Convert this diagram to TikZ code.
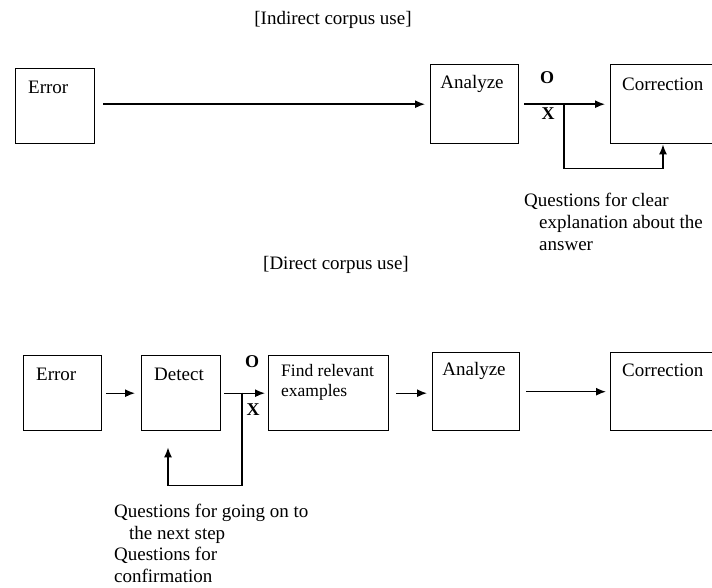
\documentclass[tikz,border=0pt]{standalone}
\usepackage{fontspec}
\setmainfont{Liberation Serif}
\usetikzlibrary{arrows,arrows.meta,positioning,calc}

\begin{document}
\begin{tikzpicture}[x=1pt, y=-1pt, font=\fontsize{19}{22}\selectfont,
            box/.style={draw, rectangle, line width=1.4pt, anchor=north west},
            txt/.style={inner sep=0pt},
            oxmark/.style={inner sep=0pt, font=\fontsize{18}{20}\selectfont\bfseries},
            flow/.style={-{Latex[length=10pt,width=8pt]}, line width=1.4pt}]
        \useasboundingbox (0,0) rectangle (712,588);
        \clip (0,0) rectangle (712,588);

        % indirect corpus use
        \node[txt] (title1) at (333,20) {[Indirect corpus use]};
        \node[box, minimum width=79pt, minimum height=75pt] (err1) at (15,68) {};
        \node[txt, anchor=west] (err1t) at (28,87) {Error};
        \node[box, minimum width=88pt, minimum height=79pt] (ana1) at (430,64) {};
        \node[txt] (ana1t) at (472,84) {Analyze};
        \node[box, minimum width=120pt, minimum height=79pt] (cor1) at (610,64) {};
        \node[txt, anchor=west] (cor1t) at (622,84) {Correction};
        \node[oxmark] (o1) at (547,78) {O};
        \node[oxmark] (x1) at (548,114) {X};
        \coordinate (fork1) at (564,103.5);
        \draw[flow, shorten <=8pt, shorten >=5pt] (err1.east |- ana1) -- (ana1);
        \draw[flow, shorten <=5pt, shorten >=5pt] (ana1) -- (cor1);
        \draw[flow] (fork1) -- ++(0,65) -| ([xshift=53pt]cor1.south west);
        \node[txt, anchor=north west, align=left] (ask1) at (524,193)
            {Questions for clear\\\hspace*{15pt}explanation about the\\\hspace*{15pt}answer};

        % direct corpus use
        \node[txt] (title2) at (336,265) {[Direct corpus use]};
        \node[box, minimum width=78pt, minimum height=75pt] (err2) at (23,355) {};
        \node[txt, anchor=west] (err2t) at (36,374) {Error};
        \node[box, minimum width=79pt, minimum height=75pt] (det) at (141,355) {};
        \node[txt] (dett) at (179,374) {Detect};
        \node[box, minimum width=120pt, minimum height=75pt] (find) at (268,355) {};
        \node[txt, anchor=north west, align=left, font=\fontsize{17.5}{20}\selectfont] (findt) at (281,364)
            {Find relevant\\examples};
        \node[box, minimum width=87pt, minimum height=78pt] (ana2) at (432,352) {};
        \node[txt] (ana2t) at (474,371) {Analyze};
        \node[box, minimum width=120pt, minimum height=78pt] (cor2) at (610,352) {};
        \node[txt, anchor=west] (cor2t) at (622,370) {Correction};
        \node[oxmark] (o2) at (252,362) {O};
        \node[oxmark] (x2) at (253,410) {X};
        \coordinate (fork2) at (242,392.5);
        \draw[flow, shorten <=4pt, shorten >=6pt] (err2) -- (det);
        \draw[flow, shorten <=3pt, shorten >=3pt] (det) -- (find);
        \draw[flow, shorten <=7pt, shorten >=5pt] (find.east) -- (ana2.west |- find.east);
        \draw[flow, shorten <=6pt, shorten >=4pt] (ana2) -- (cor2);
        \draw[flow, shorten >=16pt] (fork2) -- ++(0,93) -| ([xshift=27pt]det.south west);
        \node[txt, anchor=north west, align=left, font=\fontsize{19}{21.5}\selectfont] (ask2) at (114,504)
            {Questions for going on to\\\hspace*{15pt}the next step\\Questions for\\confirmation};
\end{tikzpicture}
\end{document}
